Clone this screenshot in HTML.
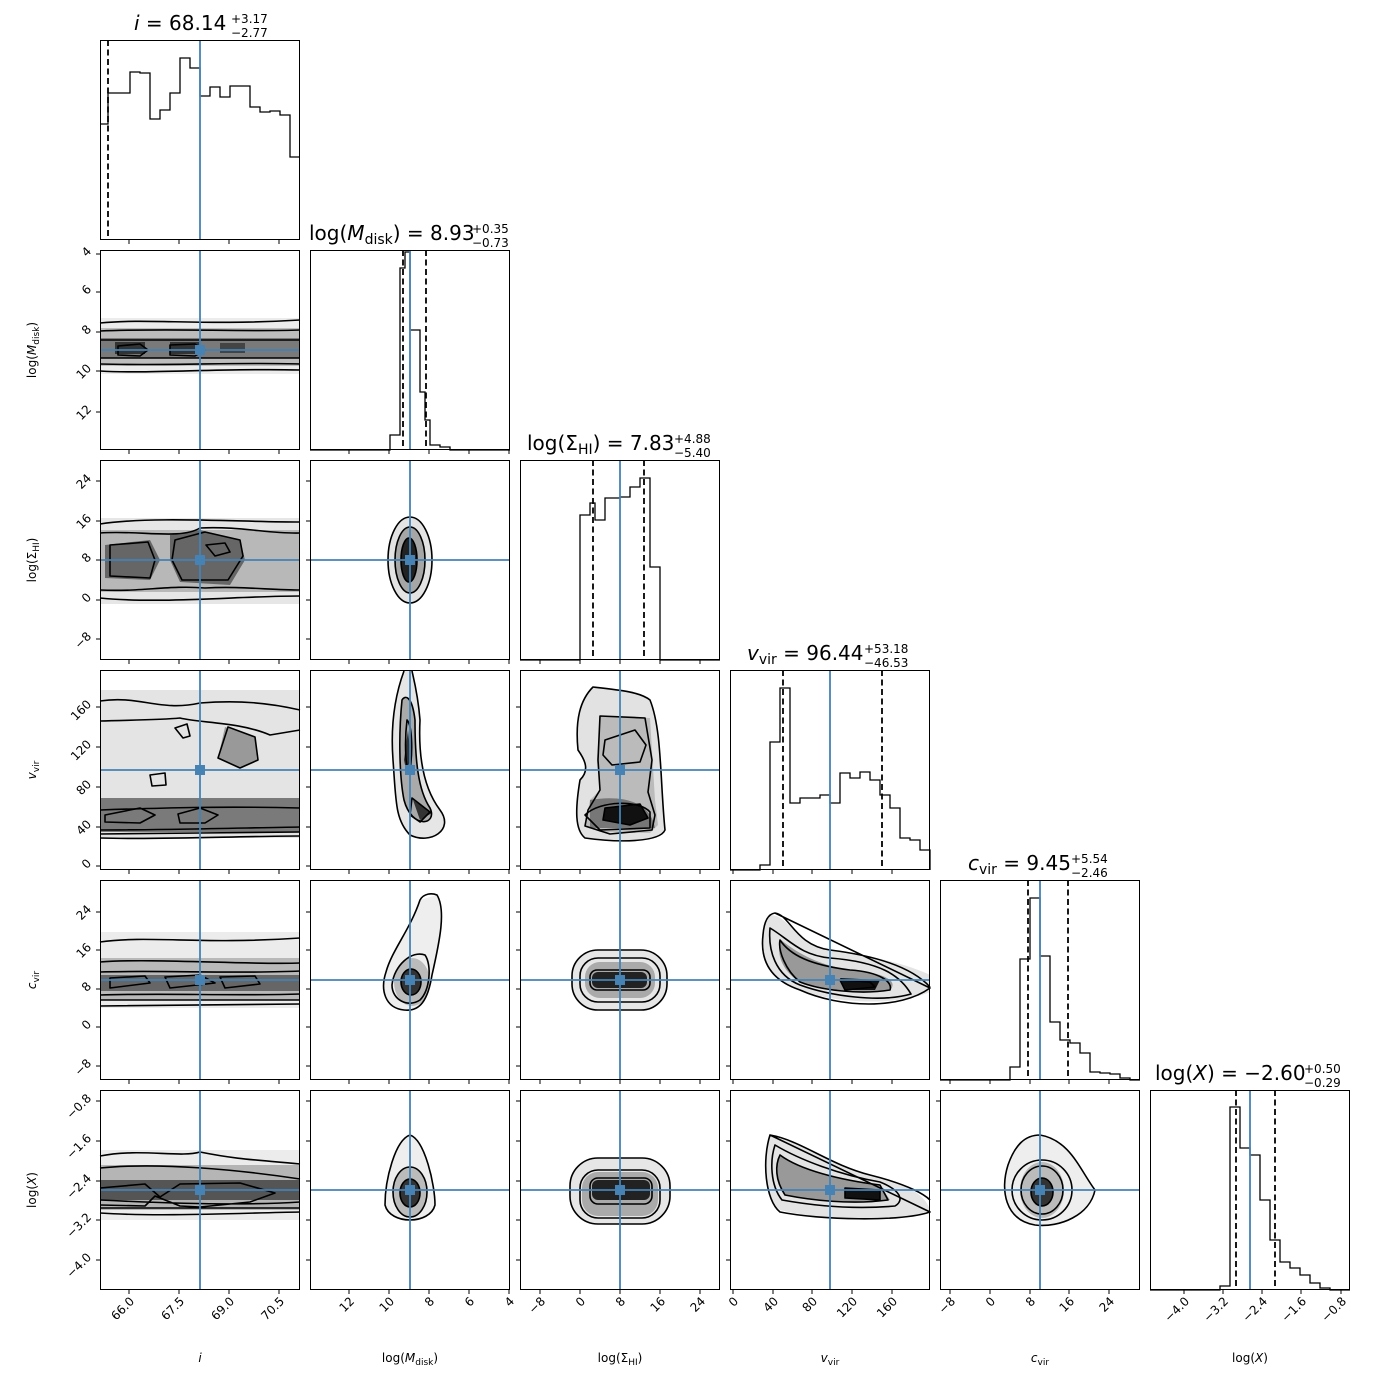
<!DOCTYPE html>
<html><head><meta charset="utf-8"><style>
html,body{margin:0;padding:0;background:#fff;}
svg{display:block;font-family:"DejaVu Sans","Liberation Sans",sans-serif;}
.t{font-size:12px;fill:#000;}
.al{font-size:12px;fill:#000;}
.ti{font-size:20px;fill:#000;}
.sm{font-size:12px;fill:#000;}
.c{fill:none;stroke:#000;stroke-width:1.6;stroke-linejoin:round;}
.h{fill:none;stroke:#000;stroke-width:1.3;}
.d{stroke:#000;stroke-width:1.8;stroke-dasharray:6,3.5;}
.b{stroke:#4682b4;stroke-width:1.8;}
.f{fill:none;stroke:#000;stroke-width:1;}
</style></head><body>
<svg id="s" width="1390" height="1390" viewBox="0 0 1390 1390" xmlns="http://www.w3.org/2000/svg">
<g id="shapes">
<rect x="100" y="318" width="200" height="56" fill="#ececec"/>
<rect x="100" y="328" width="200" height="38" fill="#bdbdbd"/>
<rect x="100" y="338" width="200" height="20" fill="#7a7a7a"/>
<rect x="115" y="342" width="30" height="12" fill="#333"/><rect x="170" y="342" width="30" height="12" fill="#333"/><rect x="220" y="343" width="25" height="10" fill="#444"/>
<path class="c" d="M100,323 C150,318 200,326 300,320 M100,371 C150,374 220,368 300,370 M100,331 C170,328 240,332 300,330 M100,364 C170,366 240,362 300,364 M100,340 L300,340 M100,358 L300,358"/>
<path class="c" d="M118,346 L140,344 L148,350 L140,356 L118,355 Z M170,345 L195,344 L205,350 L195,356 L170,355 Z"/>
<rect x="100" y="518" width="200" height="86" fill="#e6e6e6"/>
<rect x="100" y="530" width="200" height="62" fill="#b8b8b8"/>
<path d="M105,545 L150,540 L160,560 L150,580 L105,578 Z M170,535 L200,530 L240,540 L245,560 L230,585 L180,582 L170,560 Z" fill="#666"/>
<path class="c" d="M100,524 C150,516 240,522 300,522 M100,598 C160,604 240,596 300,596 M100,533 C140,530 180,540 200,528 C240,526 270,534 300,533 M100,590 C140,592 170,585 205,588 C240,586 270,590 300,590"/>
<path class="c" d="M110,545 L148,542 L155,560 L150,578 L110,576 Z M175,540 L205,532 L240,540 L243,556 L228,580 L182,580 L172,560 Z M206,545 L225,543 L230,552 L215,556 Z"/>
<ellipse cx="410" cy="560" rx="22" ry="43" fill="#e3e3e3"/><ellipse cx="410" cy="560" rx="15" ry="33" fill="#a6a6a6"/><ellipse cx="409" cy="560" rx="8" ry="22" fill="#222"/>
<ellipse class="c" cx="410" cy="560" rx="22" ry="43"/><ellipse class="c" cx="410" cy="560" rx="15" ry="33"/><ellipse class="c" cx="409" cy="560" rx="8" ry="22"/>
<rect x="100" y="690" width="200" height="148" fill="#e4e4e4"/>
<rect x="100" y="798" width="200" height="34" fill="#7a7a7a"/>
<path d="M225,727 L255,737 L257,760 L240,768 L218,758 Z" fill="#999"/>
<path class="c" d="M100,701 C140,695 160,712 200,703 C240,700 270,703 300,710 M100,721 C130,720 160,720 180,718 C200,723 240,722 270,735 L300,730 M100,810 C160,808 220,806 300,808 M100,830 C160,830 240,828 300,827 M100,834 C160,834 240,832 300,832 M100,838 C160,840 240,836 300,836"/>
<path class="c" d="M228,727 L255,737 L258,760 L240,768 L218,758 Z M175,728 L187,724 L190,736 L183,738 Z M150,775 L165,773 L166,785 L152,786 Z"/>
<path class="c" d="M105,815 L140,808 L155,815 L140,823 L105,822 Z M178,814 L200,808 L218,815 L205,823 L180,823 Z"/>
<path d="M404,671 C397,690 390,720 393,760 C396,800 395,820 410,835 C430,845 455,830 440,810 C425,790 418,760 420,720 C418,695 414,680 412,671 Z" fill="#e6e6e6"/>
<path d="M402,700 C398,740 400,780 404,800 C412,830 438,825 430,808 C418,790 415,760 415,720 C412,695 405,695 402,700Z" fill="#aaa"/>
<path d="M408,730 L404,760 L406,770 L411,760 Z M413,800 L432,813 L420,820 Z" fill="#333"/>
<path class="c" d="M404,671 C397,690 390,720 393,760 C396,800 395,820 410,835 C430,845 455,830 440,810 C425,790 418,760 420,720 C418,695 414,680 412,671"/>
<path class="c" d="M402,700 C398,740 400,780 404,800 C412,830 438,825 430,808 C418,790 415,760 415,720 C412,695 405,695 402,700Z"/>
<path class="c" d="M407,720 C404,745 406,775 410,770 C413,750 412,725 407,720 Z M412,798 L430,812 L420,822 L410,815 Z"/>
<path d="M593,687 C620,690 640,692 650,700 C662,730 660,780 665,830 C660,842 620,843 585,838 C575,830 575,810 580,780 C590,770 585,760 578,750 C575,720 580,700 593,687 Z" fill="#e2e2e2"/>
<path d="M600,716 L650,718 L655,800 L658,825 L650,833 L600,832 L585,825 L590,800 L600,790 L597,760 Z" fill="#bbb"/>
<path d="M590,800 C620,795 650,800 655,828 L590,828 Z" fill="#777"/>
<path d="M605,808 L640,804 L648,818 L630,825 L603,820 Z" fill="#111"/>
<path class="c" d="M593,687 C620,690 640,692 650,700 C662,730 660,780 665,830 C660,842 620,843 585,838 C575,830 575,810 580,780 C590,770 585,760 578,750 C575,720 580,700 593,687 Z"/>
<path class="c" d="M600,716 L645,718 L652,760 L648,792 L655,815 L652,830 L610,834 L585,826 L588,810 L600,790 L598,760 Z"/>
<path class="c" d="M585,815 C600,800 640,800 650,812 L650,828 L600,830 Z"/>
<path class="c" d="M605,808 L640,804 L648,818 L630,825 L603,820 Z M605,740 L635,730 L646,745 L640,762 L612,765 L603,755 Z"/>
<rect x="100" y="932" width="200" height="76" fill="#ececec"/>
<rect x="100" y="958" width="200" height="42" fill="#b9b9b9"/>
<rect x="100" y="975" width="200" height="16" fill="#666"/>
<path class="c" d="M100,942 C150,935 200,945 300,938 M100,962 C150,958 250,965 300,963 M100,972 C160,970 240,974 300,971 M100,995 C160,993 240,996 300,994 M100,1000 L300,1000 M100,1006 L300,1004 M110,978 L145,976 L150,983 L110,988 Z M165,977 L200,975 L215,983 L170,988 Z M220,977 L255,976 L260,984 L225,988 Z"/>
<path d="M437,895 C446,910 440,940 432,975 C428,1000 420,1012 404,1010 C385,1008 380,990 386,972 C392,950 410,930 420,900 Z" fill="#eee"/>
<ellipse cx="412" cy="982" rx="18" ry="24" fill="#bbb"/><ellipse cx="411" cy="982" rx="10" ry="13" fill="#333"/>
<path class="c" d="M437,895 C446,910 440,940 432,975 C428,1000 420,1012 404,1010 C385,1008 380,990 386,972 C392,950 410,930 420,900 C424,893 432,893 437,895 Z"/>
<path class="c" d="M425,955 C432,965 430,990 420,1000 C408,1008 392,1000 392,985 C394,965 412,950 425,955 Z"/>
<ellipse class="c" cx="411" cy="982" rx="10" ry="13"/>
<rect x="572" y="950" width="95" height="60" rx="26" fill="#e6e6e6"/><rect x="585" y="962" width="70" height="36" rx="15" fill="#aaa"/><rect x="592" y="972" width="55" height="16" rx="6" fill="#222"/>
<rect class="c" x="572" y="950" width="95" height="60" rx="26"/><rect class="c" x="580" y="958" width="80" height="44" rx="18"/><rect class="c" x="590" y="970" width="60" height="20" rx="7"/>
<path d="M770,915 C790,915 795,945 830,950 C870,955 910,965 930,975 L930,992 C900,1005 840,1005 800,990 C770,980 760,960 763,935 C764,922 766,916 770,915 Z" fill="#e4e4e4"/>
<path d="M781,940 C800,955 820,965 850,970 C880,972 900,980 890,990 C860,995 820,988 800,982 C780,970 776,950 781,940 Z" fill="#999"/>
<path d="M840,978 L880,980 L875,990 L845,990 Z" fill="#111"/>
<path class="c" d="M775,913 C790,915 795,945 830,950 C870,955 910,965 930,987 M930,988 C900,1010 840,1008 800,990 C770,980 760,960 763,935 C764,922 768,914 775,913 Z"/>
<path class="c" d="M770,928 C790,940 800,955 830,958 C880,962 900,975 911,994 C880,1003 830,996 800,985 C775,975 768,950 770,928 Z"/>
<path class="c" d="M780,940 C790,955 810,965 850,970 C880,972 893,982 890,990 C860,995 820,990 800,982 C785,970 778,950 780,940 Z M840,980 L870,982 L875,987 L845,990 Z"/>
<rect x="100" y="1150" width="200" height="70" fill="#ececec"/>
<rect x="100" y="1165" width="200" height="45" fill="#b5b5b5"/>
<rect x="100" y="1180" width="200" height="20" fill="#555"/>
<path class="c" d="M100,1156 C140,1148 180,1158 200,1152 C240,1160 260,1160 300,1164 M100,1168 C160,1162 240,1170 300,1179 M100,1200 C160,1203 240,1206 300,1202 M100,1208 L300,1208 M100,1213 C160,1217 240,1213 300,1212 M100,1188 L145,1184 L160,1197 L180,1184 L240,1183 L275,1193 L250,1202 L200,1207 L180,1206 L155,1196 L145,1206 L100,1205"/>
<path d="M410,1135 C425,1140 435,1185 435,1205 C430,1225 390,1225 385,1205 C385,1180 395,1140 410,1135 Z" fill="#eee"/>
<ellipse cx="410" cy="1192" rx="17" ry="25" fill="#bbb"/><ellipse cx="410" cy="1193" rx="10" ry="14" fill="#333"/>
<path class="c" d="M410,1135 C425,1140 435,1185 435,1205 C430,1225 390,1225 385,1205 C385,1180 395,1140 410,1135 Z"/>
<ellipse class="c" cx="410" cy="1192" rx="17" ry="25"/><ellipse class="c" cx="410" cy="1193" rx="10" ry="14"/>
<rect x="570" y="1158" width="100" height="66" rx="28" fill="#e6e6e6"/><rect x="582" y="1172" width="76" height="44" rx="16" fill="#aaa"/><rect x="592" y="1180" width="58" height="20" rx="6" fill="#222"/>
<rect class="c" x="570" y="1158" width="100" height="66" rx="28"/><rect class="c" x="580" y="1170" width="80" height="48" rx="18"/><rect class="c" x="590" y="1178" width="62" height="26" rx="8"/>
<path d="M770,1135 C800,1140 830,1165 870,1175 C910,1185 925,1195 930,1210 C900,1225 820,1220 780,1210 C765,1200 762,1160 770,1135 Z" fill="#e4e4e4"/>
<path d="M780,1155 C800,1170 840,1180 880,1185 L890,1200 C850,1205 810,1200 785,1195 C775,1180 775,1165 780,1155 Z" fill="#999"/>
<path d="M845,1188 L880,1190 L880,1200 L845,1198 Z" fill="#111"/>
<path class="c" d="M770,1135 C800,1140 830,1165 870,1175 C910,1185 925,1195 930,1200 M930,1212 C900,1222 820,1220 780,1212 C765,1200 762,1160 770,1135 Z"/>
<path class="c" d="M775,1145 C800,1160 840,1175 880,1182 C900,1190 905,1200 895,1206 C850,1210 810,1205 782,1200 C770,1185 770,1160 775,1145 Z"/>
<path class="c" d="M780,1155 C800,1170 840,1180 880,1185 L888,1200 C850,1205 810,1200 785,1195 C775,1180 775,1165 780,1155 Z M845,1188 L880,1190 L880,1200 L845,1198 Z"/>
<path d="M1040,1135 C1070,1140 1080,1170 1095,1190 C1090,1215 1060,1228 1035,1225 C1005,1220 1000,1190 1008,1165 C1015,1145 1025,1135 1040,1135 Z" fill="#eee"/>
<ellipse cx="1042" cy="1190" rx="22" ry="28" fill="#bbb"/><ellipse cx="1042" cy="1192" rx="11" ry="14" fill="#333"/>
<path class="c" d="M1040,1135 C1070,1140 1080,1170 1095,1190 C1090,1215 1060,1228 1035,1225 C1005,1220 1000,1190 1008,1165 C1015,1145 1025,1135 1040,1135 Z"/>
<ellipse class="c" cx="1042" cy="1190" rx="30" ry="30"/><ellipse class="c" cx="1042" cy="1190" rx="21" ry="24"/><ellipse class="c" cx="1042" cy="1192" rx="11" ry="14"/>
</g>
<g id="gen"></g>
<text class="ti" x="134" y="30"><tspan font-style="italic">i</tspan> = 68.14</text><text class="sm" x="231" y="23">+3.17</text><text class="sm" x="231" y="37">−2.77</text>
<text class="ti" x="309" y="240">log(<tspan font-style="italic">M</tspan><tspan font-size="14" dy="4">disk</tspan><tspan dy="-4">) = 8.93</tspan></text><text class="sm" x="472" y="233">+0.35</text><text class="sm" x="472" y="247">−0.73</text>
<text class="ti" x="527" y="450">log(Σ<tspan font-size="14" dy="4">HI</tspan><tspan dy="-4">) = 7.83</tspan></text><text class="sm" x="674" y="443">+4.88</text><text class="sm" x="674" y="457">−5.40</text>
<text class="ti" x="747" y="660"><tspan font-style="italic">v</tspan><tspan font-size="14" dy="4">vir</tspan><tspan dy="-4"> = 96.44</tspan></text><text class="sm" x="864" y="653">+53.18</text><text class="sm" x="864" y="667">−46.53</text>
<text class="ti" x="968" y="870"><tspan font-style="italic">c</tspan><tspan font-size="14" dy="4">vir</tspan><tspan dy="-4"> = 9.45</tspan></text><text class="sm" x="1071" y="863">+5.54</text><text class="sm" x="1071" y="877">−2.46</text>
<text class="ti" x="1155" y="1080">log(<tspan font-style="italic">X</tspan>) = −2.60</text><text class="sm" x="1304" y="1073">+0.50</text><text class="sm" x="1304" y="1087">−0.29</text>
<text class="al" x="200" y="1362" text-anchor="middle" font-style="italic">i</text>
<text class="al" x="410" y="1362" text-anchor="middle">log(<tspan font-style="italic">M</tspan><tspan font-size="9" dy="3">disk</tspan><tspan dy="-3">)</tspan></text>
<text class="al" x="620" y="1362" text-anchor="middle">log(Σ<tspan font-size="9" dy="3">HI</tspan><tspan dy="-3">)</tspan></text>
<text class="al" x="830" y="1362" text-anchor="middle"><tspan font-style="italic">v</tspan><tspan font-size="9" dy="3">vir</tspan></text>
<text class="al" x="1040" y="1362" text-anchor="middle"><tspan font-style="italic">c</tspan><tspan font-size="9" dy="3">vir</tspan></text>
<text class="al" x="1250" y="1362" text-anchor="middle">log(<tspan font-style="italic">X</tspan>)</text>
<text class="al" transform="translate(36,350) rotate(-90)" text-anchor="middle">log(<tspan font-style="italic">M</tspan><tspan font-size="9" dy="3">disk</tspan><tspan dy="-3">)</tspan></text>
<text class="al" transform="translate(36,560) rotate(-90)" text-anchor="middle">log(Σ<tspan font-size="9" dy="3">HI</tspan><tspan dy="-3">)</tspan></text>
<text class="al" transform="translate(36,770) rotate(-90)" text-anchor="middle"><tspan font-style="italic">v</tspan><tspan font-size="9" dy="3">vir</tspan></text>
<text class="al" transform="translate(36,980) rotate(-90)" text-anchor="middle"><tspan font-style="italic">c</tspan><tspan font-size="9" dy="3">vir</tspan></text>
<text class="al" transform="translate(36,1190) rotate(-90)" text-anchor="middle">log(<tspan font-style="italic">X</tspan>)</text>
<g class="t" text-anchor="end">
<text transform="translate(92,252) rotate(-45)">4</text><text transform="translate(92,290) rotate(-45)">6</text><text transform="translate(92,330) rotate(-45)">8</text><text transform="translate(92,369) rotate(-45)">10</text><text transform="translate(92,410) rotate(-45)">12</text>
<text transform="translate(92,479) rotate(-45)">24</text><text transform="translate(92,519) rotate(-45)">16</text><text transform="translate(92,558) rotate(-45)">8</text><text transform="translate(92,598) rotate(-45)">0</text><text transform="translate(92,637) rotate(-45)">−8</text>
<text transform="translate(92,705) rotate(-45)">160</text><text transform="translate(92,745) rotate(-45)">120</text><text transform="translate(92,785) rotate(-45)">80</text><text transform="translate(92,825) rotate(-45)">40</text><text transform="translate(92,864) rotate(-45)">0</text>
<text transform="translate(92,910) rotate(-45)">24</text><text transform="translate(92,948) rotate(-45)">16</text><text transform="translate(92,987) rotate(-45)">8</text><text transform="translate(92,1025) rotate(-45)">0</text><text transform="translate(92,1064) rotate(-45)">−8</text>
<text transform="translate(92,1099) rotate(-45)">−0.8</text><text transform="translate(92,1139) rotate(-45)">−1.6</text><text transform="translate(92,1179) rotate(-45)">−2.4</text><text transform="translate(92,1218) rotate(-45)">−3.2</text><text transform="translate(92,1258) rotate(-45)">−4.0</text>
</g>
<g class="t" text-anchor="end">
<text transform="translate(135,1302) rotate(-45)">66.0</text><text transform="translate(185,1302) rotate(-45)">67.5</text><text transform="translate(235,1302) rotate(-45)">69.0</text><text transform="translate(285,1302) rotate(-45)">70.5</text>
<text transform="translate(355,1302) rotate(-45)">12</text><text transform="translate(395,1302) rotate(-45)">10</text><text transform="translate(435,1302) rotate(-45)">8</text><text transform="translate(475,1302) rotate(-45)">6</text><text transform="translate(515,1302) rotate(-45)">4</text>
<text transform="translate(546,1302) rotate(-45)">−8</text><text transform="translate(586,1302) rotate(-45)">0</text><text transform="translate(626,1302) rotate(-45)">8</text><text transform="translate(666,1302) rotate(-45)">16</text><text transform="translate(706,1302) rotate(-45)">24</text>
<text transform="translate(739,1302) rotate(-45)">0</text><text transform="translate(779,1302) rotate(-45)">40</text><text transform="translate(818,1302) rotate(-45)">80</text><text transform="translate(858,1302) rotate(-45)">120</text><text transform="translate(898,1302) rotate(-45)">160</text>
<text transform="translate(956,1302) rotate(-45)">−8</text><text transform="translate(996,1302) rotate(-45)">0</text><text transform="translate(1036,1302) rotate(-45)">8</text><text transform="translate(1075,1302) rotate(-45)">16</text><text transform="translate(1115,1302) rotate(-45)">24</text>
<text transform="translate(1190,1302) rotate(-45)">−4.0</text><text transform="translate(1229,1302) rotate(-45)">−3.2</text><text transform="translate(1268,1302) rotate(-45)">−2.4</text><text transform="translate(1307,1302) rotate(-45)">−1.6</text><text transform="translate(1347,1302) rotate(-45)">−0.8</text>
</g>
</svg>
<script>
(function(){
var g=document.getElementById('gen'),o='';
var X0=[100,310,520,730,940,1150],Y0=[40,250,460,670,880,1090];
var BX=[200,410,620,830,1040,1250],BY=[0,350,560,770,980,1190];
var xt=[[129,179,229,279],[349,389,429,469,509],[540,580,620,660,700],[733,773,812,852,892],[950,990,1030,1069,1109],[1184,1223,1262,1301,1341]];
var yt=[[],[254,292,332,371,412],[481,521,560,600,639],[707,747,787,827,866],[912,950,989,1027,1066],[1101,1141,1181,1220,1260]];
var H=[
 [[100,124],[108,93],[120,93],[130,72],[140,73],[150,119],[160,110],[170,93],[180,58],[190,68],[200,96],[210,87],[220,97],[230,86],[240,86],[250,107],[260,112],[270,111],[280,115],[290,157],[300]],
 [[390,435],[400,268],[405,252],[410,330],[420,392],[425,420],[430,445],[440,447],[450]],
 [[580,515],[590,503],[595,520],[605,498],[620,497],[630,487],[640,478],[650,567],[660]],
 [[760,865],[770,742],[780,688],[790,803],[800,798],[820,795],[830,803],[840,773],[850,778],[860,772],[870,780],[880,795],[890,808],[900,838],[910,840],[920,850],[930]],
 [[1010,1067],[1020,959],[1030,898],[1040,956],[1050,1022],[1060,1040],[1070,1043],[1080,1053],[1090,1072],[1100,1073],[1110,1074],[1120,1078],[1130]],
 [[1220,1286],[1230,1107],[1240,1148],[1250,1155],[1260,1200],[1270,1240],[1280,1262],[1290,1268],[1300,1275],[1310,1283],[1320,1288],[1330]]
];
var D=[[108],[403,426],[593,644],[783,882],[1028,1068],[1236,1275]];
for(var r=0;r<6;r++)for(var c=0;c<=r;c++){
 var x=X0[c],y=Y0[r];
 if(r==c){
  var h=H[r],bot=y+200,p;
  if(r==0)p='M'+x+','+h[0][1];else p='M'+x+','+bot+' L'+h[0][0]+','+bot+' L'+h[0][0]+','+h[0][1];
  for(var i=0;i<h.length-1;i++){if(i>0)p+=' L'+h[i][0]+','+h[i][1];p+=' L'+h[i+1][0]+','+h[i][1];}
  if(r!=0)p+=' L'+h[h.length-1][0]+','+bot+' L'+(x+200)+','+bot;
  o+='<path class="h" d="'+p+'"/>';
  D[r].forEach(function(d){o+='<line class="d" x1="'+d+'" y1="'+y+'" x2="'+d+'" y2="'+bot+'"/>';});
  o+='<line class="b" x1="'+BX[c]+'" y1="'+y+'" x2="'+BX[c]+'" y2="'+bot+'"/>';
 }else{
  o+='<line class="b" x1="'+BX[c]+'" y1="'+y+'" x2="'+BX[c]+'" y2="'+(y+200)+'"/>';
  o+='<line class="b" x1="'+x+'" y1="'+BY[r]+'" x2="'+(x+200)+'" y2="'+BY[r]+'"/>';
  o+='<rect x="'+(BX[c]-5)+'" y="'+(BY[r]-5)+'" width="10" height="10" fill="#4682b4"/>';
  yt[r].forEach(function(t){o+='<line stroke="#000" stroke-width="1" x1="'+(x-4)+'" y1="'+t+'" x2="'+x+'" y2="'+t+'"/>';});
 }
 xt[c].forEach(function(t){o+='<line stroke="#000" stroke-width="1" x1="'+t+'" y1="'+(y+200)+'" x2="'+t+'" y2="'+(y+204)+'"/>';});
 o+='<rect class="f" x="'+(x+0.5)+'" y="'+(y+0.5)+'" width="199" height="199"/>';
}
g.innerHTML=o;
})();
</script>
</body></html>
